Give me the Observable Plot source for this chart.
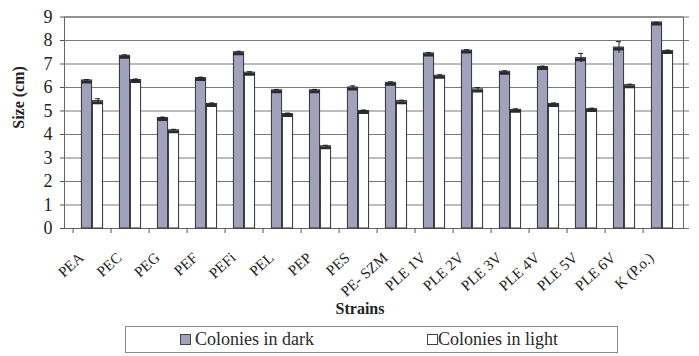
<!DOCTYPE html>
<html><head><meta charset="utf-8">
<script src="https://cdn.jsdelivr.net/npm/d3@7"></script>
<script src="https://cdn.jsdelivr.net/npm/@observablehq/plot@0.6"></script>
<style>
body{margin:0;background:#fff;font-family:"Liberation Serif","Times New Roman",serif;}
svg, svg text{font-family:"Liberation Serif","Times New Roman",serif !important;}
#wrap{position:relative;width:699px;height:356px;overflow:hidden;}
#legend{position:absolute;left:125px;top:326px;width:493px;height:27px;border:1px solid #8a8a8a;box-sizing:border-box;font-size:18px;color:#2a2a2a;font-family:"Liberation Serif","Times New Roman",serif;}
.item{position:absolute;top:1px;line-height:22px;white-space:nowrap;}
.sw{position:absolute;top:7px;width:9px;height:9px;border:1px solid #444;}
</style></head><body><div id="wrap"></div>
<script>
const strains = ["PEA","PEC","PEG","PEF","PEFi","PEL","PEP","PES","PE- SZM","PLE 1V","PLE 2V","PLE 3V","PLE 4V","PLE 5V","PLE 6V","K (P.o.)"];
const dark  = [6.3, 7.35, 4.7, 6.4, 7.5, 5.88, 5.88, 6.0, 6.2, 7.45, 7.57, 6.67, 6.87, 7.25, 7.7, 8.77];
const light = [5.42, 6.32, 4.18, 5.3, 6.63, 4.87, 3.5, 5.0, 5.42, 6.5, 5.92, 5.05, 5.3, 5.08, 6.1, 7.55];
const darkErr  = [0.04,0.04,0.04,0.04,0.04,0.04,0.04,0.07,0.04,0.04,0.04,0.04,0.04,0.2,0.25,0];
const lightErr = [0.1,0.04,0.04,0.04,0.04,0.04,0.04,0.04,0.04,0.04,0.08,0.04,0.04,0.04,0.04,0.04];
const yTicks = [0,1,2,3,4,5,6,7,8,9];
const seriesNames = ["Colonies in dark","Colonies in light"];
const seriesColors = ["#a0a1ba","#ffffff"];
const xTitle = "Strains";
const yTitle = "Size (cm)";

const rows = strains.map((s,i)=>({strain:s, dark:dark[i], light:light[i], de:darkErr[i], le:lightErr[i]}));

const W=699, H=322, ML=64, MR=16, MT=16.5, MB=94;
const xr=[66.6, 688.4];
const bw=(xr[1]-xr[0])/strains.length, half=bw/2, barW=11;
const serif = "'Liberation Serif', 'Times New Roman', serif";

const chart = Plot.plot({
  width:W, height:H, marginLeft:ML, marginRight:MR, marginTop:MT, marginBottom:MB,
  x:{type:"band", domain:strains, range:xr, padding:0},
  y:{domain:[0,9]},
  style:{fontFamily:serif, background:"white", color:"#222"},
  marks:[
    Plot.ruleY(yTicks, {stroke:"#7a7a7a", strokeWidth:1}),
    Plot.frame({stroke:"#666"}),
    Plot.axisY(yTicks, {anchor:"left", tickSize:4, tickPadding:8, fontSize:18, label:null, stroke:"#555"}),
    Plot.axisY(yTicks, {anchor:"right", tickSize:5, tickFormat:()=>"", label:null, stroke:"#777"}),
    Plot.axisX({tickSize:5, tickFormat:()=>"", dx:-half, label:null, stroke:"#555"}),
    Plot.axisX({tickSize:0, tickPadding:27, tickRotate:-42, fontSize:15, dx:-11, label:null}),
    Plot.barY(rows, {x:"strain", y:"dark", fill:seriesColors[0], stroke:"#333", strokeWidth:1, insetLeft:half-barW, insetRight:half}),
    Plot.barY(rows, {x:"strain", y:"light", fill:seriesColors[1], stroke:"#333", strokeWidth:1, insetLeft:half, insetRight:half-barW}),
    Plot.tickY(rows, {x:"strain", y:"dark", stroke:"#2a2a33", strokeWidth:3, strokeLinecap:"round", dy:1.5, insetLeft:half-barW+1, insetRight:half+1}),
    Plot.tickY(rows, {x:"strain", y:"light", stroke:"#2a2a33", strokeWidth:3, strokeLinecap:"round", dy:1.5, insetLeft:half+1, insetRight:half-barW+1}),
    Plot.ruleX(rows, {x:"strain", y1:d=>d.dark-d.de, y2:d=>d.dark+d.de, dx:-barW/2, stroke:"#222"}),
    Plot.tickY(rows, {x:"strain", y:d=>d.dark+d.de, stroke:"#222", insetLeft:half-barW/2-3, insetRight:half+barW/2-3}),
    Plot.ruleX(rows, {x:"strain", y1:d=>d.light-d.le, y2:d=>d.light+d.le, dx:barW/2, stroke:"#222"}),
    Plot.tickY(rows, {x:"strain", y:d=>d.light+d.le, stroke:"#222", insetLeft:half+barW/2-3, insetRight:half-barW/2-3}),
    Plot.text([yTitle], {frameAnchor:"left", rotate:-90, dx:-46, dy:6, fontSize:16, fontWeight:"bold", fill:"#222"}),
    Plot.text([xTitle], {frameAnchor:"bottom", dx:-14, dy:85, fontSize:16, fontWeight:"bold", fill:"#222"})
  ]
});
const wrap = document.getElementById("wrap");
chart.style.position="absolute"; chart.style.left="0"; chart.style.top="0";
wrap.appendChild(chart);

const legend = document.createElement("div");
legend.id="legend";
const pos = [[54,69],[301,312]];
seriesNames.forEach((n,i)=>{
  const sw=document.createElement("span"); sw.className="sw"; sw.style.left=pos[i][0]+"px"; sw.style.background=seriesColors[i];
  const lb=document.createElement("span"); lb.className="item"; lb.style.left=pos[i][1]+"px"; lb.textContent=n;
  legend.appendChild(sw); legend.appendChild(lb);
});
wrap.appendChild(legend);
</script>
</body></html>
